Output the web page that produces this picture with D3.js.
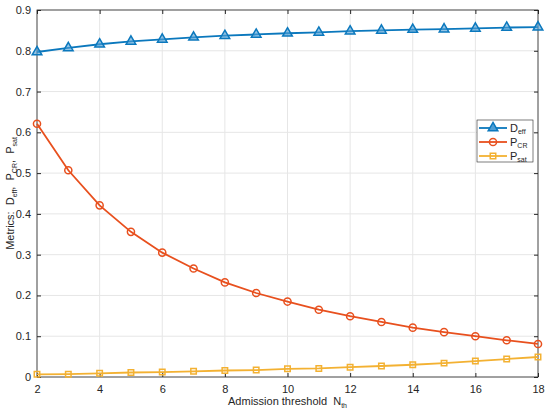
<!DOCTYPE html>
<html>
<head>
<meta charset="utf-8">
<script src="https://cdn.jsdelivr.net/npm/d3@7"></script>
<style>
  body { margin: 0; background: #fff; }
  text { font-family: "Liberation Sans", Arial, sans-serif; fill: #262626; white-space: pre; }
</style>
</head>
<body>
<div id="chart"></div>
<script>
// data
const thresholds = [2, 3, 4, 5, 6, 7, 8, 9, 10, 11, 12, 13, 14, 15, 16, 17, 18];
const dEff = [0.797, 0.807, 0.816, 0.823, 0.828, 0.833, 0.837, 0.840, 0.843, 0.845, 0.848, 0.850, 0.852, 0.853, 0.855, 0.857, 0.858];
const pCR = [0.621, 0.507, 0.421, 0.356, 0.305, 0.266, 0.232, 0.206, 0.185, 0.165, 0.149, 0.135, 0.121, 0.110, 0.100, 0.090, 0.081];
const pSat = [0.0066, 0.007, 0.009, 0.011, 0.012, 0.014, 0.016, 0.017, 0.020, 0.021, 0.024, 0.027, 0.030, 0.034, 0.039, 0.044, 0.049];
const xTicks = [2, 4, 6, 8, 10, 12, 14, 16, 18];
const yTicks = [0, 0.1, 0.2, 0.3, 0.4, 0.5, 0.6, 0.7, 0.8, 0.9];

const margin = {top: 10, right: 12, bottom: 36, left: 37},
      W = 550, H = 413,
      width = W - margin.left - margin.right,
      height = H - margin.top - margin.bottom;

const svg = d3.select("#chart").append("svg")
    .attr("width", W).attr("height", H);
const g = svg.append("g")
    .attr("transform", `translate(${margin.left},${margin.top})`);

const x = d3.scaleLinear().domain([2, 18]).range([0, width]);
const y = d3.scaleLinear().domain([0, 0.9]).range([height, 0]);

// grid
g.append("g")
    .selectAll("line").data(xTicks).join("line")
    .attr("x1", d => x(d)).attr("x2", d => x(d))
    .attr("y1", 0).attr("y2", height)
    .attr("stroke", "#e6e6e6");
g.append("g")
    .selectAll("line").data(yTicks).join("line")
    .attr("y1", d => y(d)).attr("y2", d => y(d))
    .attr("x1", 0).attr("x2", width)
    .attr("stroke", "#e6e6e6");

// axes (ticks pointing inward, MATLAB style)
const axisStyle = sel => {
    sel.select(".domain").remove();
    sel.selectAll("line").attr("stroke", "#262626");
    sel.selectAll("text").style("font-size", "11px").attr("fill", "#262626");
};
g.append("g").attr("transform", `translate(0,${height})`)
    .call(d3.axisBottom(x).tickValues(xTicks).tickSizeInner(-4).tickSizeOuter(0).tickPadding(8))
    .call(axisStyle);
g.append("g").attr("transform", `translate(0,0)`)
    .call(d3.axisTop(x).tickValues(xTicks).tickSizeInner(-4).tickSizeOuter(0).tickFormat(""))
    .call(axisStyle);
g.append("g")
    .call(d3.axisLeft(y).tickValues(yTicks).tickSizeInner(-4).tickSizeOuter(0).tickPadding(6).tickFormat(d3.format("~g")))
    .call(axisStyle);
g.append("g").attr("transform", `translate(${width},0)`)
    .call(d3.axisRight(y).tickValues(yTicks).tickSizeInner(-4).tickSizeOuter(0).tickFormat(""))
    .call(axisStyle);
g.append("rect")
    .attr("width", width).attr("height", height)
    .attr("fill", "none").attr("stroke", "#262626").attr("stroke-width", 0.8);

const series = [
    {name: "D", sub: "eff", values: dEff, color: "#0b78bd", symbol: d3.symbolTriangle, size: 40},
    {name: "P", sub: "CR", values: pCR, color: "#e8501e", symbol: d3.symbolCircle, size: 40},
    {name: "P", sub: "sat", values: pSat, color: "#f3b132", symbol: d3.symbolSquare, size: 30}
];

const line = d3.line().x((d, i) => x(thresholds[i])).y(d => y(d));

series.forEach(s => {
    g.append("path")
        .datum(s.values)
        .attr("d", line)
        .attr("fill", "none")
        .attr("stroke", s.color)
        .attr("stroke-width", 1.8);
    g.append("g").selectAll("path").data(s.values).join("path")
        .attr("transform", (d, i) => `translate(${x(thresholds[i])},${y(d)})`)
        .attr("d", d3.symbol().type(s.symbol).size(s.size))
        .attr("fill", s.symbol === d3.symbolTriangle ? "#4f9fd6" : "none")
        .attr("fill-opacity", s.symbol === d3.symbolTriangle ? 0.6 : 1)
        .attr("stroke", s.color)
        .attr("stroke-width", 1.5);
});

// legend
const lg = svg.append("g").attr("transform", "translate(477,120)");
lg.append("rect").attr("width", 56).attr("height", 42)
    .attr("fill", "#fff").attr("stroke", "#262626").attr("stroke-width", 0.6);
series.forEach((s, i) => {
    const ly = 8 + i * 14;
    lg.append("line").attr("x1", 2).attr("x2", 30).attr("y1", ly).attr("y2", ly)
        .attr("stroke", s.color).attr("stroke-width", 1.8);
    lg.append("path").attr("transform", `translate(16,${ly})`)
        .attr("d", d3.symbol().type(s.symbol).size(s.size))
        .attr("fill", s.symbol === d3.symbolTriangle ? "#4f9fd6" : "none")
        .attr("stroke", s.color).attr("stroke-width", 1.5);
    const t = lg.append("text").attr("x", 33).attr("y", ly + 4).style("font-size", "11px");
    t.append("tspan").text(s.name);
    t.append("tspan").attr("dy", 2).style("font-size", "7px").text(s.sub);
});

// axis labels
const xl = svg.append("text")
    .attr("x", margin.left + width / 2).attr("y", H - 8)
    .attr("text-anchor", "middle").style("font-size", "11px");
xl.append("tspan").text("Admission threshold  N");
xl.append("tspan").attr("dy", 3).style("font-size", "7px").text("th");

const yl = svg.append("text")
    .attr("transform", `translate(14,${margin.top + height / 2}) rotate(-90)`)
    .attr("text-anchor", "middle").style("font-size", "11px");
yl.append("tspan").text("Metrics:  D");
yl.append("tspan").attr("dy", 3).style("font-size", "7px").text("eff");
yl.append("tspan").attr("dy", -3).text(",  P");
yl.append("tspan").attr("dy", 3).style("font-size", "7px").text("CR");
yl.append("tspan").attr("dy", -3).text(",  P");
yl.append("tspan").attr("dy", 3).style("font-size", "7px").text("sat");
</script>
</body>
</html>
